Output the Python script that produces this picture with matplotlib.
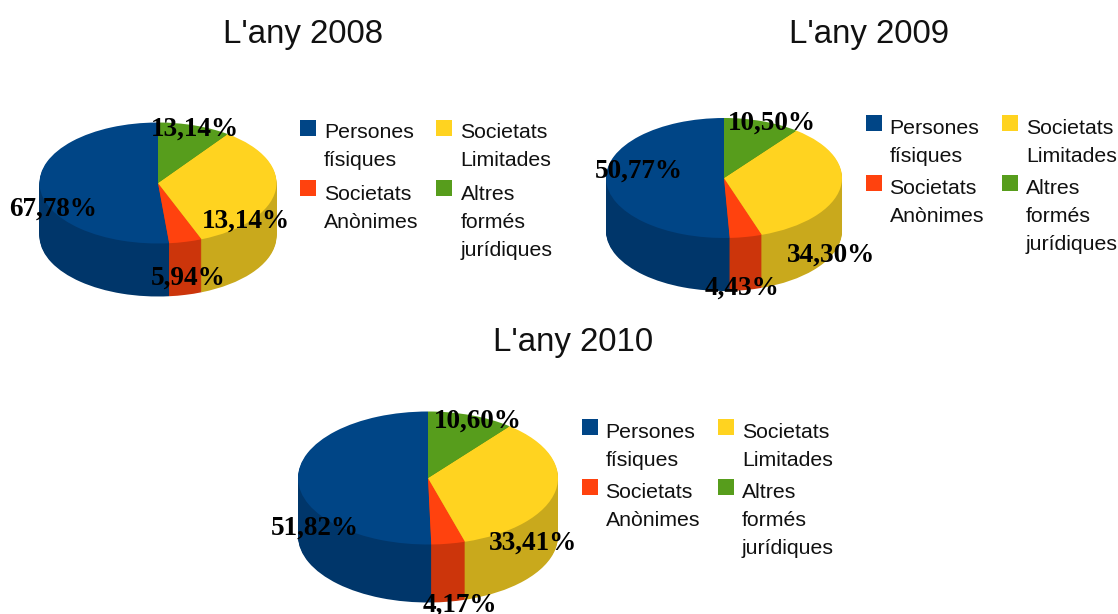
import matplotlib
matplotlib.use("Agg")
import matplotlib.pyplot as plt
from matplotlib.patches import Rectangle

W, H = 1118, 614

categories = ["Persones\nfísiques", "Societats\nAnònimes", "Societats\nLimitades", "Altres\nformés\njurídiques"]
colors = ["#004586", "#ff420e", "#ffd320", "#579d1c"]
side_colors = ["#00366a", "#cc350b", "#c9a91c", "#4a8518"]

titles = ["L'any 2008", "L'any 2009", "L'any 2010"]
# slice shares as drawn in the picture (they differ somewhat from the printed labels)
shares_2008 = [51.5, 4.5, 34.0, 10.0]
shares_2009 = [50.77, 4.43, 34.30, 10.50]
shares_2010 = [50.4, 4.2, 34.6, 10.8]
labels_2008 = ["67,78%", "5,94%", "13,14%", "13,14%"]
labels_2009 = ["50,77%", "4,43%", "34,30%", "10,50%"]
labels_2010 = ["51,82%", "4,17%", "33,41%", "10,60%"]

# layout in pixels
pies = [
    dict(shares=shares_2008, labels=labels_2008, title=titles[0], c=(158, 183), r=(118.5, 60.5), depth=53,
         title_xy=(303, 34), legend_dx=0, legend_dy=0,
         label_xy=[(53, 209.5), (188, 278.5), (246, 221.5), (195, 129.5)]),
    dict(shares=shares_2009, labels=labels_2009, title=titles[1], c=(724, 178), r=(118, 60), depth=53,
         title_xy=(869.5, 34), legend_dx=565.5, legend_dy=-5,
         label_xy=[(772, 123.5), (639, 171.5), (831, 255.5), (742, 288.5)]),
    dict(shares=shares_2010, labels=labels_2010, title=titles[2], c=(428, 478), r=(130, 66.5), depth=58,
         title_xy=(573.5, 342), legend_dx=281.5, legend_dy=299,
         label_xy=[(478, 421.5), (315, 528.5), (533, 543.5), (460, 605.5)]),
]
# label order for the three pies follows the list above
pies[1]["labels"] = [labels_2009[3], labels_2009[0], labels_2009[2], labels_2009[1]]
pies[2]["labels"] = [labels_2010[3], labels_2010[0], labels_2010[2], labels_2010[1]]

# legend base layout for 2008: swatch (x, y top), first-line text (x, y centre)
legend_swatch = [(300, 120), (300, 180), (436, 120), (436, 180)]
legend_text = [(324, 133), (324, 194), (460.5, 133), (460.5, 194)]
line_gap = 28

fig = plt.figure(figsize=(W / 100, H / 100), dpi=100, facecolor="white")

for p in pies:
    cx, cy = p["c"]
    rx, ry = p["r"]
    d = p["depth"]
    ax = fig.add_axes([(cx - rx - 2) / W, 1 - (cy + ry + d + 2) / H,
                       (2 * rx + 4) / W, (2 * ry + d + 4) / H])
    for k in range(d, 0, -1):
        ax.pie(p["shares"], colors=side_colors, startangle=90, counterclock=True,
               center=(0, -k / ry), radius=1, frame=True, wedgeprops=dict(linewidth=0.6, edgecolor="none"))
    ax.pie(p["shares"], colors=colors, startangle=90, counterclock=True,
           center=(0, 0), radius=1, frame=True, wedgeprops=dict(linewidth=0))
    ax.set_aspect("auto")
    ax.set_xlim(-1 - 2 / rx, 1 + 2 / rx)
    ax.set_ylim(-1 - (d + 2) / ry, 1 + 2 / ry)
    ax.set_axis_off()

ov = fig.add_axes([0, 0, 1, 1], zorder=5)
ov.set_xlim(0, W)
ov.set_ylim(H, 0)
ov.set_axis_off()
ov.patch.set_alpha(0)

sans = "Liberation Sans"
serif = "Liberation Serif"
for p in pies:
    ov.text(*p["title_xy"], p["title"], family=sans, fontsize=23.8, ha="center", va="center", color="#111111")
    for (x, y), s in zip(p["label_xy"], p["labels"]):
        ov.text(x, y, s, family=serif, fontweight="bold", fontsize=19.6, ha="center", va="center",
                color="#000000", clip_on=False)
    dx, dy = p["legend_dx"], p["legend_dy"]
    for col, (sx, sy), (tx, ty), cat in zip(colors, legend_swatch, legend_text, categories):
        ov.add_patch(Rectangle((sx + dx, sy + dy), 16, 16, facecolor=col, edgecolor="none"))
        for i, line in enumerate(cat.split("\n")):
            ov.text(tx + dx, ty + dy + i * line_gap, line, family=sans, fontsize=15.3,
                    ha="left", va="center", color="#111111")

fig.savefig("out.png", dpi=100)
